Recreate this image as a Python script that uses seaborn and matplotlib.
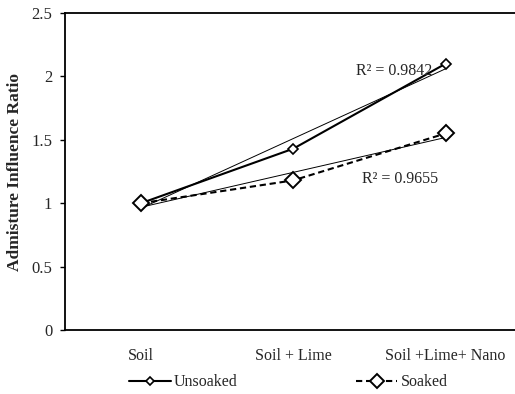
import numpy as np
import pandas as pd
import matplotlib
matplotlib.use('Agg')
import matplotlib.pyplot as plt
import seaborn as sns

categories = ['Soil', 'Soil + Lime', 'Soil +Lime+ Nano']
unsoaked = [1.0, 1.43, 2.10]
soaked = [1.0, 1.18, 1.55]
r2_labels = ['R² = 0.9842', 'R² = 0.9655']
yticks = [0, 0.5, 1, 1.5, 2, 2.5]

sns.set_style('white')
plt.rcParams['font.family'] = ['Liberation Serif', 'DejaVu Serif']

df = pd.DataFrame({'pos': np.arange(len(categories)),
                   'Unsoaked': unsoaked, 'Soaked': soaked})

fig = plt.figure(figsize=(5.15, 3.94), dpi=100)
ax = fig.add_axes([0.126, 0.1624, 0.887, 0.8046])

# linear trendlines (thin)
sns.regplot(data=df, x='pos', y='Unsoaked', ax=ax, ci=None, scatter=False,
            truncate=True, line_kws={'color': 'black', 'lw': 0.7})
sns.regplot(data=df, x='pos', y='Soaked', ax=ax, ci=None, scatter=False,
            truncate=True, line_kws={'color': 'black', 'lw': 0.7})

sns.lineplot(data=df, x='pos', y='Unsoaked', ax=ax, color='black', lw=1.5,
             marker='D', markersize=5, markerfacecolor='white',
             markeredgecolor='black', markeredgewidth=1.2, label='Unsoaked')
sns.lineplot(data=df, x='pos', y='Soaked', ax=ax, color='black', lw=1.5,
             linestyle=(0, (3, 1.8)), marker='D', markersize=8,
             markerfacecolor='white', markeredgecolor='black',
             markeredgewidth=1.4, label='Soaked')

ax.text(1.41, 2.04, r2_labels[0], fontsize=11.5, ha='left', va='center')
ax.text(1.45, 1.19, r2_labels[1], fontsize=11.5, ha='left', va='center')

ax.set_xlim(-0.5, 2.5)
ax.set_ylim(0, 2.5)
ax.set_yticks(yticks)
ax.set_yticklabels([f'{t:g}' for t in yticks], fontsize=12)
ax.set_xticks(df['pos'])
ax.set_xticklabels(categories, fontsize=11.5)
ax.tick_params(axis='x', length=0, pad=13)
ax.tick_params(axis='y', direction='out', length=3.6, width=1, color='black',
               left=True, pad=5.5)
ax.set_xlabel('')
ax.set_ylabel('Admisture Influence Ratio', fontsize=12.5, fontweight='bold',
              labelpad=6)
for s in ax.spines.values():
    s.set_color('black')
    s.set_linewidth(1.3)

ax.legend_.remove()
handles, labels = ax.get_legend_handles_labels()
fig.legend(handles, labels, loc='center', bbox_to_anchor=(0.56, 0.03), ncol=2,
           frameon=False, fontsize=11.5, columnspacing=7.4, handlelength=2.6,
           handletextpad=0.2, markerscale=0.85)

fig.savefig('out.png', dpi=100)
